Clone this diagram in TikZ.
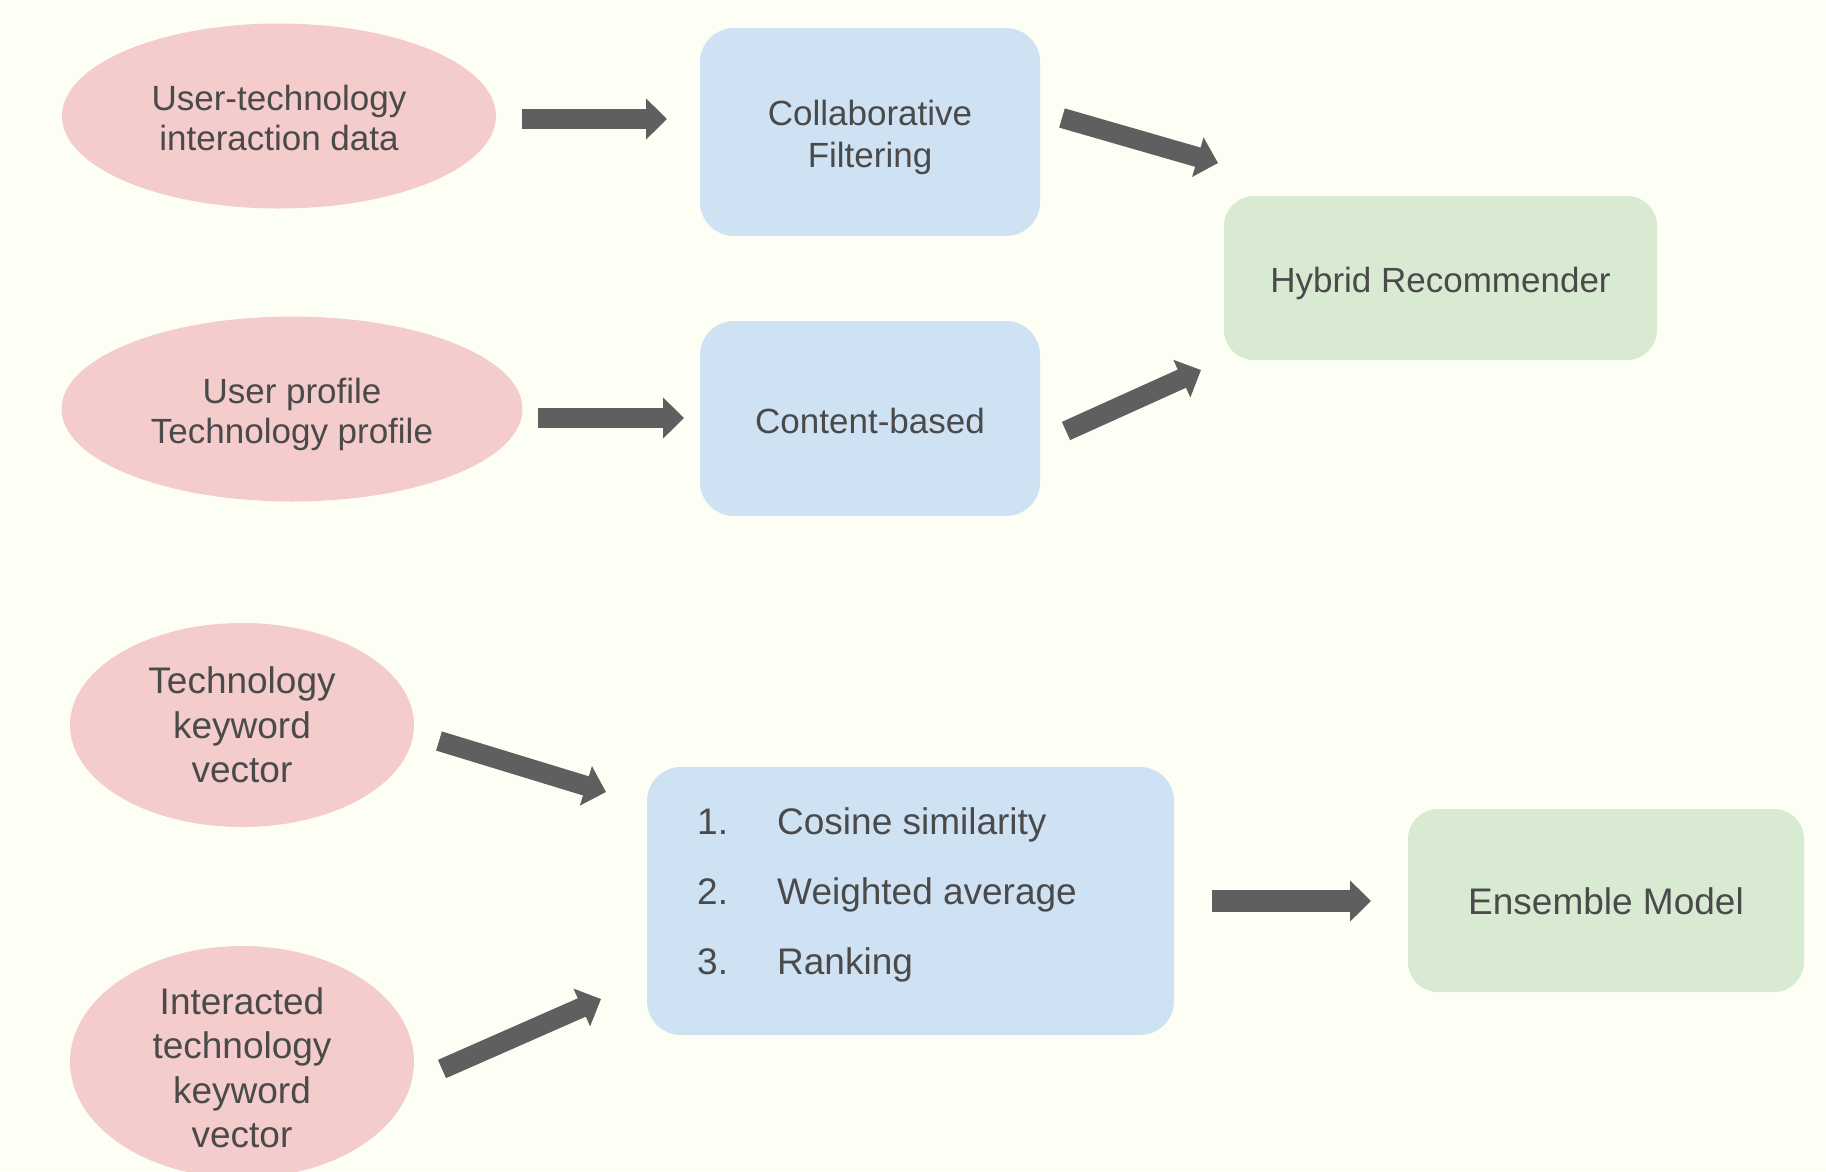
\documentclass[tikz,border=0pt]{standalone}
\usepackage{fontspec}
\setmainfont{Liberation Sans}
\usetikzlibrary{shapes.geometric,arrows.meta}
\definecolor{bgc}{HTML}{FDFFF4}
\definecolor{pinkc}{HTML}{F4CCCC}
\definecolor{bluec}{HTML}{CFE2F3}
\definecolor{greenc}{HTML}{D9EAD3}
\definecolor{txtc}{HTML}{4A4A4A}
\definecolor{arrc}{HTML}{5F5F5F}
\tikzset{
  oval/.style={ellipse, fill=pinkc, draw=none, inner sep=0pt},
  bbox/.style={rectangle, rounded corners=34pt, fill=bluec, draw=none, inner sep=0pt},
  gbox/.style={rectangle, rounded corners=30pt, fill=greenc, draw=none, inner sep=0pt},
  lbl/.style={inner sep=0pt, align=center, text=txtc},
  blk/.style={draw=arrc, line width=20pt, -{Triangle[width=40pt,length=21pt]}},
}
\begin{document}
\begin{tikzpicture}[x=1pt,y=-1pt]
\useasboundingbox (0,0) rectangle (1826,1171);
\fill[bgc] (0,0) rectangle (1826,1171);

% ellipses
\node[oval, minimum width=434pt, minimum height=185pt] (e1) at (279,116) {};
\node[oval, minimum width=461pt, minimum height=185pt] (e2) at (292,409) {};
\node[oval, minimum width=344pt, minimum height=204pt] (e3) at (242,725) {};
\node[oval, minimum width=344pt, minimum height=232pt] (e4) at (242,1062) {};
\node[lbl, font=\fontsize{35}{40}\selectfont] (e1t) at ([yshift=-2pt]e1.center) {User-technology\\interaction data};
\node[lbl, font=\fontsize{35}{40}\selectfont] (e2t) at ([yshift=-5pt]e2.center) {User profile\\Technology profile};
\node[lbl, font=\fontsize{37}{44.5}\selectfont] (e3t) at ([yshift=0pt]e3.center) {Technology\\keyword\\vector};
\node[lbl, font=\fontsize{37}{44.5}\selectfont] (e4t) at ([yshift=-6pt]e4.center) {Interacted\\technology\\keyword\\vector};

% blue boxes
\node[bbox, minimum width=340pt, minimum height=208pt] (cf) at (870,132) {};
\node[bbox, minimum width=340pt, minimum height=195pt] (cb) at (870,418.5) {};
\node[bbox, minimum width=527pt, minimum height=268pt] (sim) at (910.5,901) {};
\node[lbl, font=\fontsize{35}{42}\selectfont] (cft) at ([yshift=-5pt]cf.center) {Collaborative\\Filtering};
\node[lbl, font=\fontsize{35}{42}\selectfont] (cbt) at ([yshift=-2pt]cb.center) {Content-based};
\node[lbl, anchor=west, align=left, font=\fontsize{37}{70}\selectfont] (lst) at (697,895)
  {\makebox[80pt][l]{1.}Cosine similarity\\\makebox[80pt][l]{2.}Weighted average\\\makebox[80pt][l]{3.}Ranking};

% green boxes
\node[gbox, minimum width=433pt, minimum height=164pt] (hyb) at (1440.5,278) {};
\node[gbox, minimum width=396pt, minimum height=183pt] (ens) at (1606,900.5) {};
\node[lbl, font=\fontsize{35}{42}\selectfont] (hybt) at ([yshift=-5pt]hyb.center) {Hybrid Recommender};
\node[lbl, font=\fontsize{37}{44}\selectfont] (enst) at ([yshift=-1pt]ens.center) {Ensemble Model};

% arrow end points
\coordinate (a1s) at (522,119);  \coordinate (a1e) at (667,119);
\coordinate (a2s) at (538,418);  \coordinate (a2e) at (684,418);
\coordinate (a3s) at (1062,118); \coordinate (a3e) at (1218,163);
\coordinate (a4s) at (1066,431); \coordinate (a4e) at (1201,370);
\coordinate (a5s) at (439,741);  \coordinate (a5e) at (606,792);
\coordinate (a6s) at (442,1069); \coordinate (a6e) at (601,999);
\coordinate (a7s) at (1212,901); \coordinate (a7e) at (1371,901);

\draw[blk] (a1s) -- (a1e);
\draw[blk] (a2s) -- (a2e);
\draw[blk] (a3s) -- (a3e);
\draw[blk] (a4s) -- (a4e);
\draw[blk] (a5s) -- (a5e);
\draw[blk] (a6s) -- (a6e);
\draw[blk, line width=22pt] (a7s) -- (a7e);
\end{tikzpicture}
\end{document}
